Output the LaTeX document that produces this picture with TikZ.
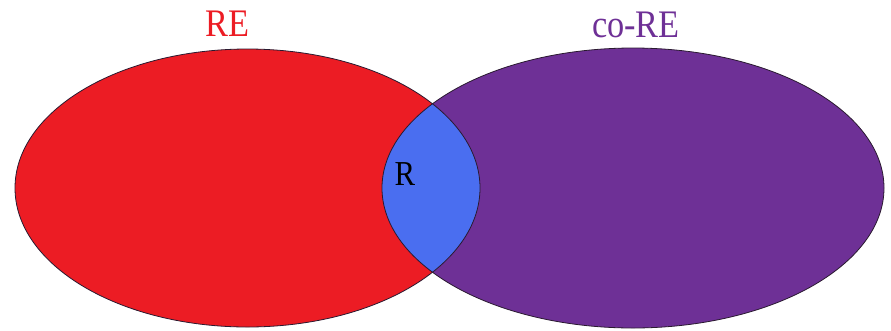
\documentclass[tikz,border=0pt]{standalone}
\usepackage{fontspec}
\newfontfamily\labfont[FakeStretch=0.88]{Liberation Serif}
\definecolor{rered}{HTML}{EC1C24}
\definecolor{copurple}{HTML}{6E3096}
\definecolor{rblue}{HTML}{4A6EF0}
\definecolor{edge}{HTML}{2A1A30}
\tikzset{
  lab/.style={anchor=base, inner sep=0pt, font=\labfont\fontsize{39}{39}\selectfont},
  outline/.style={draw=edge, line width=0.8pt}
}
\begin{document}
\begin{tikzpicture}[x=1pt,y=-1pt]
\useasboundingbox (0,0) rectangle (891,330);
\coordinate (cre) at (247.5,188);
\coordinate (cco) at (633,188);
\fill[rered] (cre) ellipse [x radius=232.5, y radius=139];
\fill[copurple] (cco) ellipse [x radius=251, y radius=140];
\begin{scope}
  \clip (cre) ellipse [x radius=232.5, y radius=139];
  \fill[rblue] (cco) ellipse [x radius=251, y radius=140];
\end{scope}
\draw[outline] (cre) ellipse [x radius=232.5, y radius=139];
\draw[outline] (cco) ellipse [x radius=251, y radius=140];
\node[lab, text=rered] (relab) at (227.5,36) {RE};
\node[lab, text=copurple] (colab) at (636,37) {co-RE};
\node[lab, text=black, font=\labfont\fontsize{35}{35}\selectfont] (rlab) at (405,185) {R};
\end{tikzpicture}
\end{document}
